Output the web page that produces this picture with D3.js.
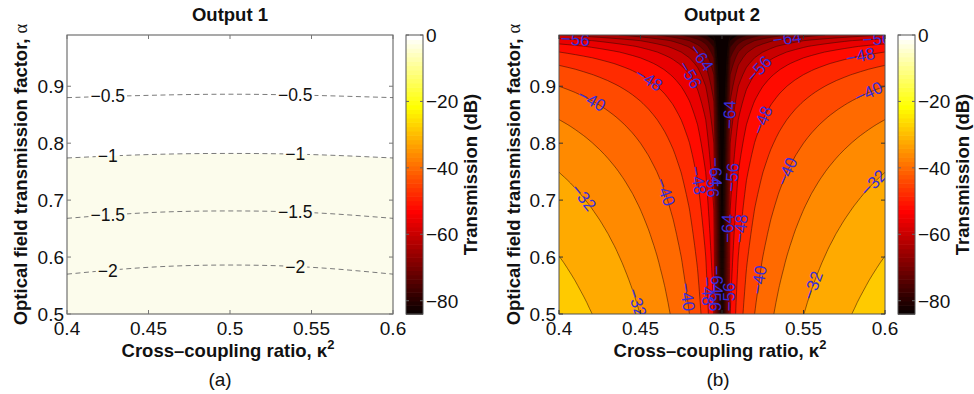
<!DOCTYPE html>
<html><head><meta charset="utf-8">
<script src="https://cdn.jsdelivr.net/npm/d3@7"></script>
<style>
body{margin:0;background:#fff}
svg{display:block}
text{font-family:"Liberation Sans",Arial,Helvetica,sans-serif;fill:#111}
</style>
</head><body>
<svg id="c" width="974" height="394"></svg>
<script>
// ---------------- data ----------------
const kappaTicks = [0.4, 0.45, 0.5, 0.55, 0.6];
const kappaTickLabels = ["0.4", "0.45", "0.5", "0.55", "0.6"];
const alphaTicks = [0.5, 0.6, 0.7, 0.8, 0.9];
const alphaTickLabels = ["0.5", "0.6", "0.7", "0.8", "0.9"];
const colorTicks = [0, -20, -40, -60, -80];
const colorTickLabels = ["0", "\u221220", "\u221240", "\u221260", "\u221280"];
const colorDomain = [-84, 0];
const kappaDomain = [0.4, 0.6];
const alphaDomain = [0.5, 0.99];

// Output 1: contour lines (alpha position of each level at these kappa values)
const out1Kappa = [0.40, 0.45, 0.50, 0.55, 0.60];
const out1Levels = [-0.5, -1, -1.5, -2];
const out1LevelLabels = ["\u22120.5", "\u22121", "\u22121.5", "\u22122"];
const out1Alpha = [
  [0.880, 0.884, 0.886, 0.884, 0.880],
  [0.774, 0.780, 0.782, 0.780, 0.774],
  [0.668, 0.678, 0.681, 0.678, 0.668],
  [0.570, 0.582, 0.586, 0.582, 0.570]
];
const out1LabelKappa = [0.425, 0.54];
const out1FillLevel = -1.5;   // colour below the -1 contour
const out1TopLevel = -0.5;    // colour above the -1 contour

// Output 2: transmission (dB) = coupling term (per kappa) + loss term (per alpha)
const out2Kappa = [0.400,0.405,0.410,0.415,0.420,0.425,0.430,0.435,0.440,0.445,0.450,0.455,0.460,0.465,0.470,0.475,0.480,0.485,0.490,0.495,0.500,
                   0.505,0.510,0.515,0.520,0.525,0.530,0.535,0.540,0.545,0.550,0.555,0.560,0.565,0.570,0.575,0.580,0.585,0.590,0.595,0.600];
const out2CouplingDb = [-13.98,-14.42,-14.89,-15.39,-15.92,-16.48,-17.08,-17.72,-18.42,-19.17,-20.00,-20.92,-21.94,-23.10,-24.44,-26.02,-27.96,-30.46,-33.98,-40.00,
                        -73.00,
                        -40.00,-33.98,-30.46,-27.96,-26.02,-24.44,-23.10,-21.94,-20.92,-20.00,-19.17,-18.42,-17.72,-17.08,-16.48,-15.92,-15.39,-14.89,-14.42,-13.98];
const out2Alpha = [0.50,0.51,0.52,0.53,0.54,0.55,0.56,0.57,0.58,0.59,0.60,0.61,0.62,0.63,0.64,0.65,0.66,0.67,0.68,0.69,
                   0.70,0.71,0.72,0.73,0.74,0.75,0.76,0.77,0.78,0.79,0.80,0.81,0.82,0.83,0.84,0.85,0.86,0.87,0.88,0.89,
                   0.90,0.91,0.92,0.93,0.94,0.95,0.96,0.97,0.98,0.99];
const out2LossDb = [-12.04,-12.22,-12.39,-12.58,-12.77,-12.96,-13.15,-13.35,-13.56,-13.76,
                    -13.98,-14.20,-14.42,-14.66,-14.89,-15.14,-15.39,-15.65,-15.92,-16.19,
                    -16.48,-16.77,-17.08,-17.39,-17.72,-18.06,-18.42,-18.79,-19.17,-19.58,
                    -20.00,-20.44,-20.92,-21.41,-21.94,-22.50,-23.10,-23.74,-24.44,-25.19,
                    -26.02,-26.94,-27.96,-29.12,-30.46,-32.04,-33.98,-36.48,-40.00,-46.02];
const out2Levels = [-84,-80,-76,-72,-68,-64,-60,-56,-52,-48,-44,-40,-36,-32,-28];
// contour labels: level, approximate kappa, approximate alpha
const out2LabelLevel = [-56,-48,-40,-56,-64,-32,-40,-48,-56,-64,-32,-40,-48,-56,-64,
                        -64,-56,-64,-48,-40,-32,-40,-48,-56,-64,-56,-48,-40,-32,-56];
const out2LabelKappa = [0.412,0.452,0.418,0.482,0.487,0.413,0.464,0.483,0.491,0.495,0.447,0.478,0.490,0.494,0.497,
                        0.505,0.506,0.503,0.511,0.539,0.593,0.590,0.585,0.595,0.542,0.522,0.5245,0.5245,0.557,0.505];
const out2LabelAlpha = [0.977,0.911,0.870,0.919,0.946,0.700,0.714,0.735,0.725,0.745,0.521,0.525,0.535,0.530,0.560,
                        0.849,0.738,0.647,0.653,0.749,0.723,0.884,0.949,0.977,0.985,0.937,0.837,0.560,0.554,0.530];

// ---------------- helpers ----------------
const svg = d3.select("#c");
const Y0 = 35, Y1 = 314;
const hot64 = i => {
  const r = i <= 24 ? i / 24 : 1;
  const g = i <= 24 ? 0 : (i <= 48 ? (i - 24) / 24 : 1);
  const b = i <= 48 ? 0 : (i - 48) / 16;
  return d3.rgb(r * 255, g * 255, b * 255).formatHex();
};
const cIndex = v => Math.max(1, Math.min(64, Math.floor((v - colorDomain[0]) / (colorDomain[1] - colorDomain[0]) * 64) + 1));
const colorOf = v => hot64(cIndex(v));
const axisCol = "#555";
const TICK_FS = "19px", LAB_FS = "18.5px";

const panels = [
  {x0: 67, x1: 393, cb: 406, title: "Output 1", sub: "(a)", titleX: 230, subX: 220, xlabX: 228, ylabX: 27, cbLabX: 477},
  {x0: 559, x1: 885, cb: 898, title: "Output 2", sub: "(b)", titleX: 722, subX: 718, xlabX: 720, ylabX: 520, cbLabX: 969}
];

panels.forEach((P, pi) => {
  const x = d3.scaleLinear(kappaDomain, [P.x0, P.x1]);
  const y = d3.scaleLinear(alphaDomain, [Y1, Y0]);
  const g = svg.append("g");
  const clipId = "clip" + pi;
  svg.append("clipPath").attr("id", clipId).append("rect")
    .attr("x", P.x0).attr("y", Y0).attr("width", P.x1 - P.x0).attr("height", Y1 - Y0);
  const plot = g.append("g").attr("clip-path", `url(#${clipId})`);

  if (pi === 0) {
    // ---- Output 1 ----
    plot.append("rect").attr("x", P.x0).attr("y", Y0).attr("width", P.x1 - P.x0).attr("height", Y1 - Y0)
      .attr("fill", colorOf(out1TopLevel));
    const pts1 = out1Kappa.map((k, i) => ({k, a: out1Alpha[1][i]}));
    plot.append("path").datum(pts1)
      .attr("d", d3.area().x(d => x(d.k)).y0(Y1 + 2).y1(d => y(d.a)).curve(d3.curveNatural))
      .attr("fill", "#fcfcec");
    // labels + mask
    const mask = svg.append("mask").attr("id", "lblmask");
    mask.append("rect").attr("x", 0).attr("y", 0).attr("width", 974).attr("height", 394).attr("fill", "#fff");
    const lblG = g.append("g");
    out1Levels.forEach((lev, li) => {
      const aAt = d3.scaleLinear(out1Kappa, out1Alpha[li]);
      out1LabelKappa.forEach(k => {
        const t = lblG.append("text").attr("x", x(k)).attr("y", y(aAt(k)))
          .attr("text-anchor", "middle").attr("dominant-baseline", "central")
          .style("font-size", "17.5px").text(out1LevelLabels[li]);
        const bb = t.node().getBBox();
        mask.append("rect").attr("x", bb.x - 2).attr("y", bb.y).attr("width", bb.width + 4).attr("height", bb.height).attr("fill", "#000");
      });
    });
    const lines = plot.append("g").attr("mask", "url(#lblmask)");
    out1Levels.forEach((lev, li) => {
      const pts = out1Kappa.map((k, i) => ({k, a: out1Alpha[li][i]}));
      lines.append("path").datum(pts)
        .attr("d", d3.line().x(d => x(d.k)).y(d => y(d.a)).curve(d3.curveNatural))
        .attr("fill", "none").attr("stroke", "#7a7a7a").attr("stroke-width", 1).attr("stroke-dasharray", "5,3.5");
    });
    lblG.raise();
  } else {
    // ---- Output 2 ----
    const nK = out2Kappa.length, nA = out2Alpha.length;
    const values = new Array(nK * nA);
    for (let j = 0; j < nA; j++) for (let i = 0; i < nK; i++) values[j * nK + i] = out2CouplingDb[i] + out2LossDb[j];
    const dk = (out2Kappa[nK - 1] - out2Kappa[0]) / (nK - 1);
    const da = (out2Alpha[nA - 1] - out2Alpha[0]) / (nA - 1);
    const px = c => x(out2Kappa[0] + (c - 0.5) * dk);
    const py = c => y(out2Alpha[0] + (c - 0.5) * da);
    const proj = d3.geoTransform({point: function(a, b) { this.stream.point(px(a), py(b)); }});
    const path = d3.geoPath(proj);
    const gen = d3.contours().size([nK, nA]).thresholds(out2Levels);
    const bands = gen(values);
    plot.append("rect").attr("x", P.x0).attr("y", Y0).attr("width", P.x1 - P.x0).attr("height", Y1 - Y0)
      .attr("fill", hot64(1));
    plot.selectAll("path.band").data(bands).join("path").attr("class", "band")
      .attr("d", path).attr("fill", d => colorOf(d.value)).attr("stroke", "none");
    plot.selectAll("path.cl").data(bands).join("path").attr("class", "cl")
      .attr("d", path).attr("fill", "none").attr("stroke", "#2a0a00").attr("stroke-width", 0.6).attr("stroke-opacity", 0.85);
    // labels snapped to contour
    const lg = plot.append("g");
    out2LabelLevel.forEach((lev, li) => {
      const geo = gen.contour(values, lev);
      const tx = x(out2LabelKappa[li]), ty = y(out2LabelAlpha[li]);
      let best = null;
      geo.coordinates.forEach(poly => poly.forEach(ring => {
        const n = ring.length - 1;
        const pp = ring.slice(0, n).map(c => [px(c[0]), py(c[1])]);
        pp.forEach((p, i) => {
          if (p[0] < P.x0 + 3 || p[0] > P.x1 - 3 || p[1] < Y0 + 3 || p[1] > Y1 - 3) return;
          const d = (p[0] - tx) ** 2 + (p[1] - ty) ** 2;
          if (!best || d < best.d) {
            const a = pp[(i - 1 + n) % n], b = pp[(i + 1) % n];
            best = {d, p, ang: Math.atan2(b[1] - a[1], b[0] - a[0]) * 180 / Math.PI};
          }
        });
      }));
      if (!best) return;
      let ang = best.ang;
      while (ang > 90) ang -= 180;
      while (ang < -90) ang += 180;
      lg.append("text").attr("transform", `translate(${best.p[0]},${best.p[1]}) rotate(${ang})`)
        .attr("text-anchor", "middle").attr("dominant-baseline", "central")
        .style("font-size", "17px").style("fill", "#3a2ed8")
        .text("\u2212" + Math.abs(lev));
    });
  }

  // ---- axes frame & ticks ----
  g.append("rect").attr("x", P.x0).attr("y", Y0).attr("width", P.x1 - P.x0).attr("height", Y1 - Y0)
    .attr("fill", "none").attr("stroke", axisCol).attr("stroke-width", 1);
  const tk = g.append("g").attr("stroke", pi === 0 ? "#777" : "#333").attr("stroke-width", 1);
  kappaTicks.forEach(k => {
    tk.append("line").attr("x1", x(k)).attr("x2", x(k)).attr("y1", Y1).attr("y2", Y1 - 4);
    tk.append("line").attr("x1", x(k)).attr("x2", x(k)).attr("y1", Y0).attr("y2", Y0 + 4);
  });
  alphaTicks.forEach(a => {
    tk.append("line").attr("x1", P.x0).attr("x2", P.x0 + 4).attr("y1", y(a)).attr("y2", y(a));
    tk.append("line").attr("x1", P.x1).attr("x2", P.x1 - 4).attr("y1", y(a)).attr("y2", y(a));
  });
  kappaTicks.forEach((k, i) => {
    g.append("text").attr("x", x(k)).attr("y", Y1 + 21).attr("text-anchor", "middle")
      .style("font-size", TICK_FS).text(kappaTickLabels[i]);
  });
  alphaTicks.forEach((a, i) => {
    g.append("text").attr("x", P.x0 - 3).attr("y", y(a) + 7).attr("text-anchor", "end")
      .style("font-size", TICK_FS).text(alphaTickLabels[i]);
  });

  // ---- colorbar ----
  const yc = d3.scaleLinear(colorDomain, [Y1, Y0]);
  const cbw = 17;
  const step = (colorDomain[1] - colorDomain[0]) / 64;
  const cbG = g.append("g");
  d3.range(1, 65).forEach(i => {
    const lo = colorDomain[0] + (i - 1) * step, hi = lo + step;
    cbG.append("rect").attr("x", P.cb).attr("y", yc(hi)).attr("width", cbw).attr("height", yc(lo) - yc(hi) + 0.6)
      .attr("fill", hot64(i));
  });
  cbG.append("rect").attr("x", P.cb).attr("y", Y0).attr("width", cbw).attr("height", Y1 - Y0)
    .attr("fill", "none").attr("stroke", axisCol);
  colorTicks.forEach((v, i) => {
    cbG.append("line").attr("x1", P.cb).attr("x2", P.cb + 3).attr("y1", yc(v)).attr("y2", yc(v)).attr("stroke", "#666");
    cbG.append("line").attr("x1", P.cb + cbw).attr("x2", P.cb + cbw - 3).attr("y1", yc(v)).attr("y2", yc(v)).attr("stroke", "#666");
    cbG.append("text").attr("x", P.cb + cbw + 3).attr("y", yc(v) + 7).style("font-size", TICK_FS).text(colorTickLabels[i]);
  });
  g.append("text").attr("transform", `translate(${P.cbLabX},${(Y0 + Y1) / 2}) rotate(-90)`)
    .attr("text-anchor", "middle").style("font-size", LAB_FS).style("font-weight", "bold").text("Transmission (dB)");

  // ---- titles & labels ----
  g.append("text").attr("x", P.titleX).attr("y", 21).attr("text-anchor", "middle")
    .style("font-size", LAB_FS).style("font-weight", "bold").text(P.title);
  const xl = g.append("text").attr("x", P.xlabX).attr("y", 357).attr("text-anchor", "middle")
    .style("font-size", LAB_FS).style("font-weight", "bold");
  xl.append("tspan").text("Cross\u2013coupling ratio, \u03ba");
  xl.append("tspan").attr("dy", -8).style("font-size", "13px").text("2");
  const yl = g.append("text").attr("transform", `translate(${P.ylabX},${(Y0 + Y1) / 2 + 0}) rotate(-90)`)
    .attr("text-anchor", "middle").style("font-size", LAB_FS).style("font-weight", "bold");
  yl.append("tspan").text("Optical field transmission factor, ");
  yl.append("tspan").style("font-family", "'Liberation Serif',serif").style("font-weight", "normal").text("\u03b1");
  g.append("text").attr("x", P.subX).attr("y", 386).attr("text-anchor", "middle")
    .style("font-size", TICK_FS).text(P.sub);
});
</script>
</body></html>
